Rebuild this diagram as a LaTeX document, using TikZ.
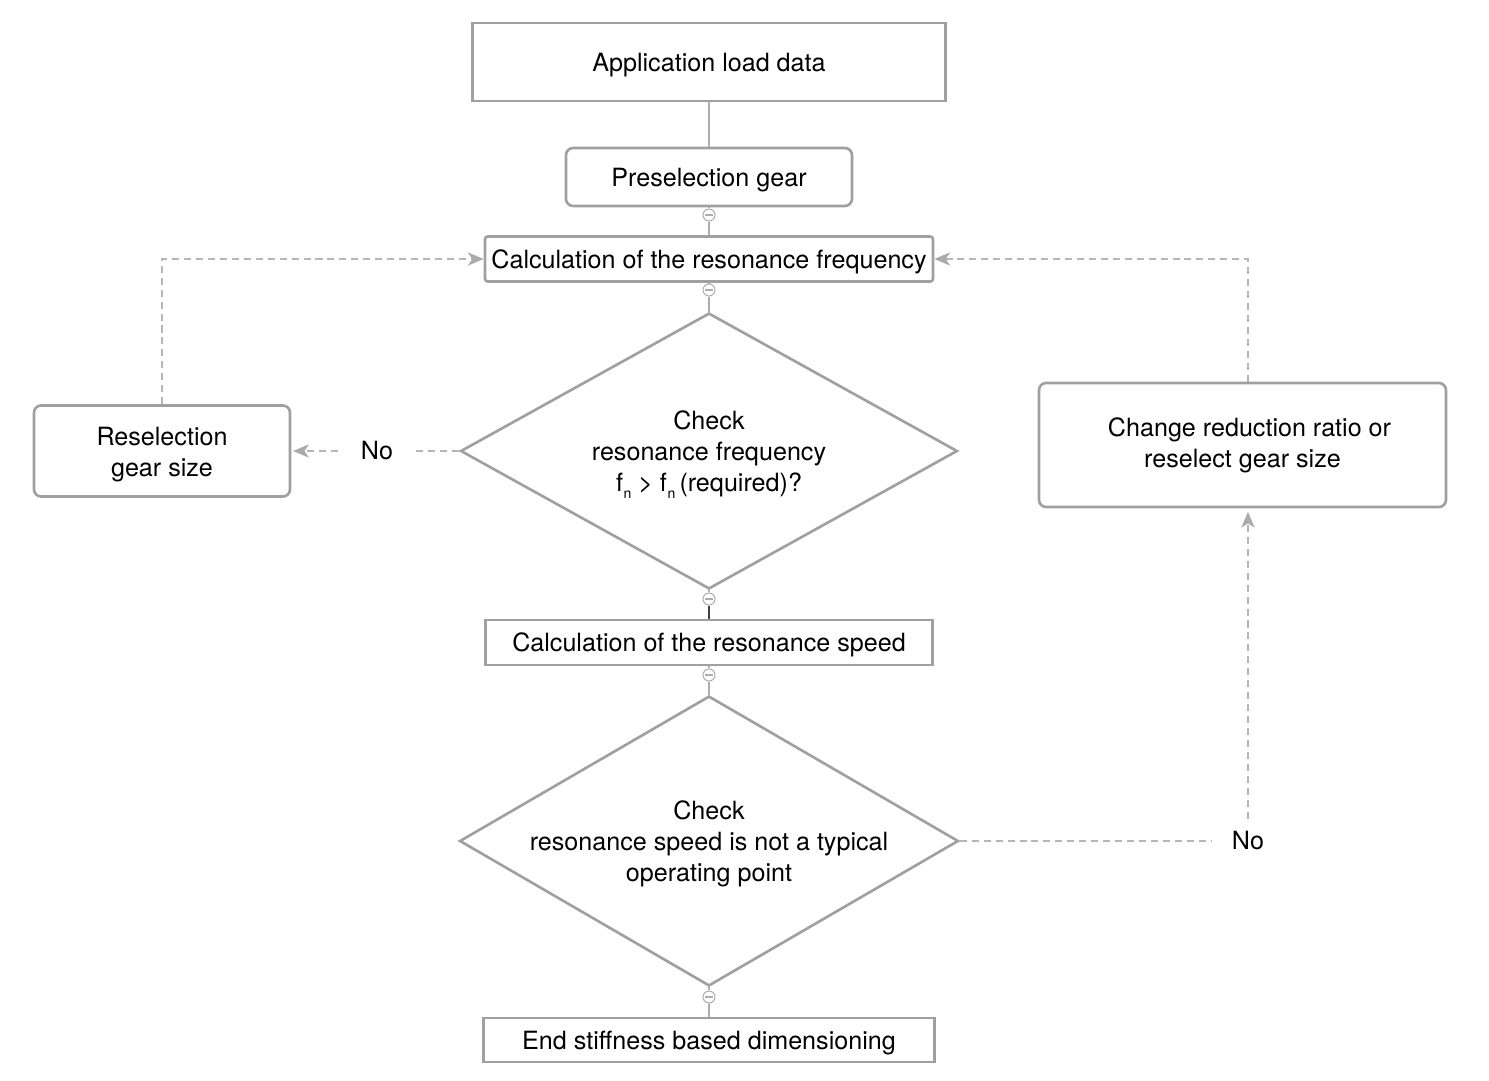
\documentclass[tikz,border=0pt]{standalone}
\usepackage{fontspec}
\setmainfont{TeX Gyre Heros}
\usetikzlibrary{arrows.meta,shapes.geometric}
\definecolor{boxgray}{HTML}{A0A0A0}
\definecolor{linegray}{HTML}{ADADAD}
\definecolor{dashgray}{HTML}{B6B6B6}
\definecolor{tipgray}{HTML}{AAAAAA}
\newcommand{\subn}{\kern0.3pt\raisebox{-4pt}{\fontsize{8}{8}\selectfont n}}
\newcommand{\lowstrut}{\rule{0pt}{13.7pt}}
\newcommand{\dialines}[1]{\makebox[0pt]{\begin{tabular}{@{}c@{}}\rule{0pt}{15.7pt}#1\end{tabular}}}
\begin{document}
\begin{tikzpicture}[x=0.02cm,y=-0.02cm,font=\fontsize{14.3}{17.6}\selectfont,
  box/.style={draw=boxgray,line width=1.5pt,fill=white,align=center,inner sep=0pt,text=black},
  rbox/.style={box,rounded corners=4pt},
  decision/.style={box,diamond,aspect=1.8},
  joint/.style={circle,draw=linegray,line width=0.6pt,fill=white,minimum size=0.24cm,inner sep=0pt,
    path picture={\draw[linegray,line width=0.6pt]
      ([xshift=-2pt]path picture bounding box.center) -- ([xshift=2pt]path picture bounding box.center);}},
  link/.style={draw=linegray,line width=0.8pt},
  darklink/.style={draw=black!75,line width=0.8pt},
  dashlink/.style={draw=dashgray,line width=1.2pt,dash pattern=on 4pt off 2.8pt},
  dasharrow/.style={dashlink,-{Stealth[length=9pt,width=7.5pt,inset=2.5pt,color=tipgray]}},
  label/.style={inner sep=0pt,text=black}
]
\useasboundingbox (0,0) rectangle (1489,1080);

% nodes
\node[box,minimum width=9.46cm,minimum height=1.56cm] (app) at (709,62) {\lowstrut Application load data};
\node[rbox,minimum width=5.72cm,minimum height=1.16cm] (pre) at (709,177) {\lowstrut Preselection gear};
\node[box,rounded corners=1.5pt,minimum width=8.96cm,minimum height=0.9cm] (calc1) at (709,259) {\lowstrut Calculation of the resonance frequency};
\node[decision,minimum width=9.94cm,minimum height=5.52cm] (dia1) at (709,451)
  {\dialines{Check\\resonance frequency\\f\subn{} > f\subn\,(required)?}};
\node[box,minimum width=8.94cm,minimum height=0.9cm] (calc2) at (709,642.5) {\lowstrut Calculation of the resonance speed};
\node[decision,minimum width=9.98cm,minimum height=5.8cm] (dia2) at (709,841)
  {\dialines{Check\\resonance speed is not a typical\\operating point}};
\node[box,minimum width=9.02cm,minimum height=0.88cm] (endn) at (709,1040) {\lowstrut End stiffness based dimensioning};
\node[rbox,minimum width=5.12cm,minimum height=1.82cm] (resel) at (162,451) {\rule{0pt}{14.3pt}Reselection\\gear size};
\node[rbox,minimum width=8.14cm,minimum height=2.48cm] (change) at (1242.5,445)
  {\hspace*{0.28cm}Change reduction ratio or\\reselect gear size};
\node[label,minimum width=1.54cm] (no1) at (377,451) {No};
\node[label,minimum width=1.44cm,minimum height=0.88cm] (no2) at (1248,841) {No};

% joints
\node[joint] (j1) at (709,215) {};
\node[joint] (j2) at (709,290) {};
\node[joint] (j3) at (709,599) {};
\node[joint] (j4) at (709,675) {};
\node[joint] (j5) at (709,997) {};

% solid connectors
\draw[link] (app) -- (pre);
\draw[link] (pre) -- (j1);
\draw[link] (j1) -- (calc1);
\draw[link] (calc1) -- (j2);
\draw[link] (j2) -- (dia1);
\draw[link] (dia1) -- (j3);
\draw[darklink] (j3) -- (calc2);
\draw[link] (calc2) -- (j4);
\draw[link] (j4) -- (dia2);
\draw[link] (dia2) -- (j5);
\draw[link] (j5) -- (endn);

% dashed connectors
\draw[dashlink] (dia1.west) -- (no1.east);
\draw[dasharrow,shorten >=1pt] (no1.west) -- (resel.east);
\draw[dasharrow] (resel.north) |- (calc1.west);
\draw[dashlink] (dia2.east) -- (no2.west);
\draw[dasharrow,shorten >=2pt] (no2.north) -- (no2 |- change.south);
\draw[dasharrow] (no2 |- change.north) |- (calc1.east);
\end{tikzpicture}
\end{document}
